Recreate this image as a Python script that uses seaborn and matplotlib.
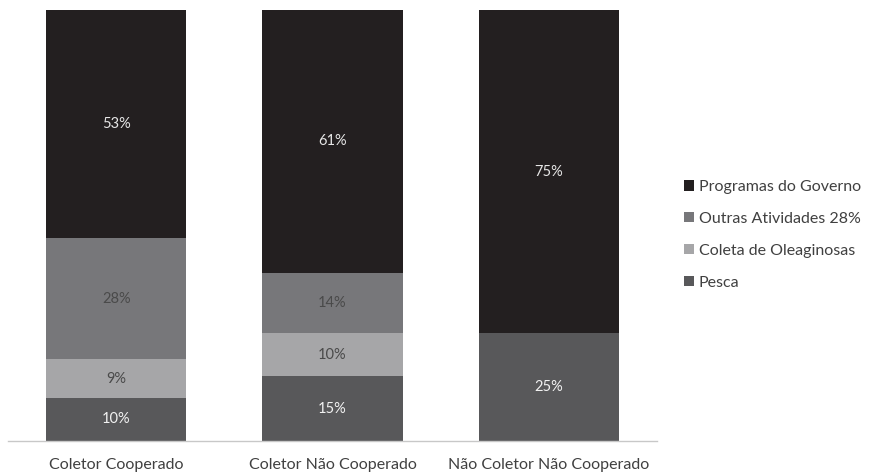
import matplotlib
matplotlib.use("Agg")
import matplotlib.pyplot as plt
import seaborn as sns
import numpy as np
import pandas as pd
from matplotlib.patches import Patch

categories = ["Coletor Cooperado", "Coletor Não Cooperado", "Não Coletor Não Cooperado"]
series_names = ["Pesca", "Coleta de Oleaginosas", "Outras Atividades 28%", "Programas do Governo"]
pesca = [10, 15, 25]
coleta = [9, 10, 0]
outras = [28, 14, 0]
programas = [53, 61, 75]

colors = {"Pesca": "#58585a", "Coleta de Oleaginosas": "#a6a6a8",
          "Outras Atividades 28%": "#77777a", "Programas do Governo": "#231f20"}
label_colors = {"Pesca": "#f2f2f2", "Coleta de Oleaginosas": "#4a4a4a",
                "Outras Atividades 28%": "#4a4a4a", "Programas do Governo": "#e6e6e6"}

sns.set_theme(style="white")
plt.rcParams['font.family'] = ['Lato', 'DejaVu Sans']

fig = plt.figure(figsize=(8.73, 4.72), dpi=100)
ax = fig.add_axes([8/873, 1 - 441/472, 649/873, 431/472])

vals = [pesca, coleta, outras, programas]
cum = np.cumsum(np.array(vals), axis=0)
# draw from tallest (top series) to shortest so stacked look results
for i in range(len(series_names) - 1, -1, -1):
    df = pd.DataFrame({"cat": categories, "val": cum[i]})
    sns.barplot(data=df, x="cat", y="val", color=colors[series_names[i]],
                saturation=1, width=0.648, ax=ax, edgecolor="none", linewidth=0)

for i, name in enumerate(series_names):
    for j in range(len(categories)):
        v = vals[i][j]
        if v <= 0:
            continue
        bottom = cum[i][j] - v
        ax.text(j, bottom + v / 2, f"{v}%", ha="center", va="center",
                fontsize=10.5, color=label_colors[name])

ax.set_xlim(-0.5, 2.5)
ax.set_ylim(0, 100)
ax.set_xlabel("")
ax.set_ylabel("")
ax.set_yticks([])
ax.tick_params(axis="x", length=0, pad=12, labelsize=11.5, labelcolor="#404040")
for s in ["top", "left", "right"]:
    ax.spines[s].set_visible(False)
ax.spines["bottom"].set_color("#c8c8c8")
ax.spines["bottom"].set_linewidth(1)

handles = [Patch(facecolor=colors[n], edgecolor="none") for n in series_names[::-1]]
fig.legend(handles, series_names[::-1], loc="center left", bbox_to_anchor=(670/873, 1 - 235/472),
           frameon=False, fontsize=11.5, handlelength=0.6, handleheight=0.6,
           handletextpad=0.3, labelspacing=1.12, labelcolor="#404040")

fig.savefig("out.png", dpi=100)
